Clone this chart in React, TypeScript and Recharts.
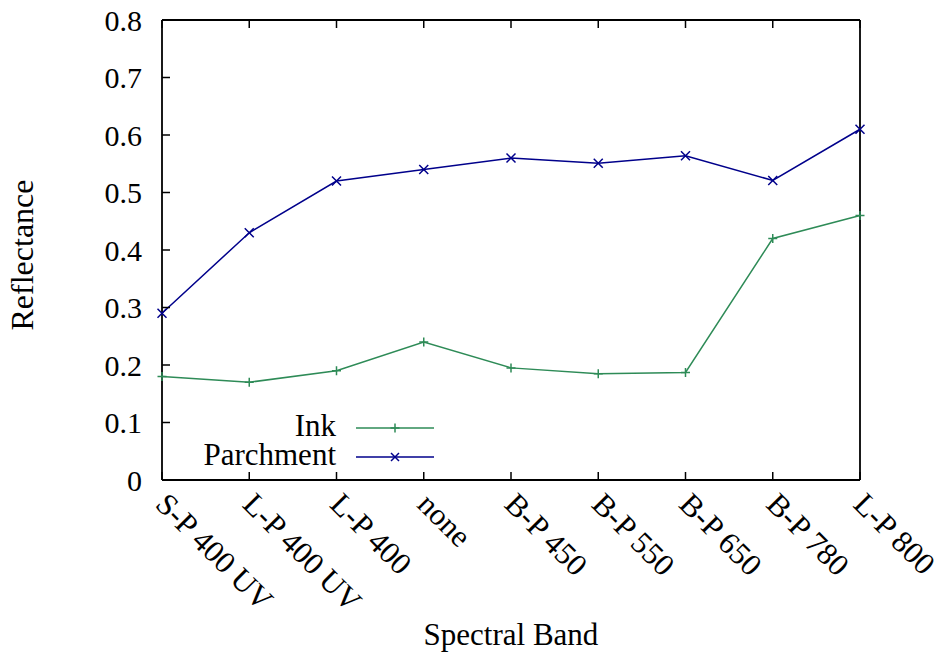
import React from 'react';
import { LineChart, Line, XAxis, YAxis, Legend } from 'recharts';

const categories = ['S-P 400 UV', 'L-P 400 UV', 'L-P 400', 'none', 'B-P 450', 'B-P 550', 'B-P 650', 'B-P 780', 'L-P 800'];
const ink = [0.18, 0.17, 0.19, 0.24, 0.195, 0.185, 0.187, 0.42, 0.46];
const parchment = [0.29, 0.43, 0.52, 0.54, 0.56, 0.551, 0.564, 0.521, 0.61];
const yTicks = [0, 0.1, 0.2, 0.3, 0.4, 0.5, 0.6, 0.7, 0.8];
const yTickLabels = ['0', '0.1', '0.2', '0.3', '0.4', '0.5', '0.6', '0.7', '0.8'];
const xTicks = [0, 1, 2, 3, 4, 5, 6, 7, 8];

const data = categories.map((c, i) => ({ idx: i, name: c, ink: ink[i], parchment: parchment[i] }));

const FONT = '"Liberation Serif", "Times New Roman", serif';
const INK = '#2e8b57';
const PARCH = '#00008b';
const TICK = 8;

const LeftTick = (p: any) => (
  <g>
    <line x1={p.x} y1={p.y} x2={p.x + TICK} y2={p.y} stroke="#000" strokeWidth={1.5} />
    <text x={p.x - 20} y={p.y} dy="0.35em" textAnchor="end" fontFamily={FONT} fontSize={30} fill="#000">
      {yTickLabels[yTicks.indexOf(p.payload.value)] ?? String(p.payload.value)}
    </text>
  </g>
);

const RightTick = (p: any) => (
  <line x1={p.x} y1={p.y} x2={p.x - TICK} y2={p.y} stroke="#000" strokeWidth={1.5} />
);

const TopTick = (p: any) => (
  <line x1={p.x} y1={p.y} x2={p.x} y2={p.y + TICK} stroke="#000" strokeWidth={1.5} />
);

const BottomTick = (p: any) => {
  const tx = p.x - 8;
  const ty = p.y + 26;
  return (
    <g>
      <line x1={p.x} y1={p.y} x2={p.x} y2={p.y - TICK} stroke="#000" strokeWidth={1.5} />
      <text x={tx} y={ty} transform={`rotate(45, ${tx}, ${ty})`} textAnchor="start" fontFamily={FONT} fontSize={31} fill="#000">
        {categories[p.payload.value]}
      </text>
    </g>
  );
};

const plusPath = (x: number, y: number, s: number) => `M${x - s},${y}H${x + s}M${x},${y - s}V${y + s}`;
const crossPath = (x: number, y: number, s: number) => `M${x - s},${y - s}L${x + s},${y + s}M${x - s},${y + s}L${x + s},${y - s}`;

const PlusDot = (p: any) => (
  <path key={`p${p.index}`} d={plusPath(p.cx, p.cy, 4.5)} stroke={INK} strokeWidth={1.5} fill="none" />
);
const CrossDot = (p: any) => (
  <path key={`c${p.index}`} d={crossPath(p.cx, p.cy, 4.5)} stroke={PARCH} strokeWidth={1.5} fill="none" />
);

const LegendContent = () => (
  <svg width={300} height={90} style={{ display: 'block', overflow: 'visible' }}>
    <g fontFamily={FONT} fontSize={31} fill="#000">
      <text x={156} y={36} textAnchor="end">Ink</text>
      <text x={156} y={65} textAnchor="end">Parchment</text>
    </g>
    <line x1={176} y1={28} x2={254} y2={28} stroke={INK} strokeWidth={1.5} />
    <path d={plusPath(215, 28, 4.5)} stroke={INK} strokeWidth={1.5} />
    <line x1={176} y1={57} x2={254} y2={57} stroke={PARCH} strokeWidth={1.5} />
    <path d={crossPath(215, 57, 4)} stroke={PARCH} strokeWidth={1.5} />
  </svg>
);

const XTitle = (p: any) => {
  const vb = p.viewBox;
  return (
    <text x={vb.x + vb.width / 2} y={645} textAnchor="middle" fontFamily={FONT} fontSize={31} fill="#000">
      Spectral Band
    </text>
  );
};

const YTitle = (p: any) => {
  const vb = p.viewBox;
  const cy = vb.y + vb.height / 2 + 5;
  return (
    <text x={33} y={cy} transform={`rotate(-90, 33, ${cy})`} textAnchor="middle" fontFamily={FONT} fontSize={32} fill="#000">
      Reflectance
    </text>
  );
};

export default function App() {
  return (
    <div style={{ position: 'absolute', left: 0, top: 0, width: 943, height: 654, background: '#fff' }}>
      <LineChart width={943} height={654} data={data} margin={{ top: 19, right: 82, bottom: 0, left: 0 }}>
        <XAxis
          dataKey="idx"
          type="number"
          domain={[0, 8]}
          ticks={xTicks}
          interval={0}
          height={174}
          tickSize={0}
          tickMargin={0}
          tickLine={false}
          axisLine={{ stroke: '#000', strokeWidth: 1.8 }}
          tick={<BottomTick />}
          label={<XTitle />}
        />
        <XAxis
          xAxisId="top"
          orientation="top"
          dataKey="idx"
          type="number"
          domain={[0, 8]}
          ticks={xTicks}
          interval={0}
          height={1}
          tickSize={0}
          tickMargin={0}
          tickLine={false}
          axisLine={{ stroke: '#000', strokeWidth: 1.8 }}
          tick={<TopTick />}
        />
        <YAxis
          type="number"
          domain={[0, 0.8]}
          ticks={yTicks}
          interval={0}
          width={162}
          tickSize={0}
          tickMargin={0}
          tickLine={false}
          axisLine={{ stroke: '#000', strokeWidth: 1.8 }}
          tick={<LeftTick />}
          label={<YTitle />}
        />
        <YAxis
          yAxisId="r"
          orientation="right"
          type="number"
          domain={[0, 0.8]}
          ticks={yTicks}
          interval={0}
          width={1}
          tickSize={0}
          tickMargin={0}
          tickLine={false}
          axisLine={{ stroke: '#000', strokeWidth: 1.8 }}
          tick={<RightTick />}
        />
        <Legend
          layout="horizontal"
          verticalAlign="middle"
          align="center"
          content={<LegendContent />}
          wrapperStyle={{ position: 'absolute', left: 180, top: 400, width: 300, height: 90 }}
        />
        <Line dataKey="ink" stroke={INK} strokeWidth={1.5} dot={PlusDot} activeDot={false} isAnimationActive={false} />
        <Line dataKey="parchment" stroke={PARCH} strokeWidth={1.5} dot={CrossDot} activeDot={false} isAnimationActive={false} />
      </LineChart>
    </div>
  );
}
